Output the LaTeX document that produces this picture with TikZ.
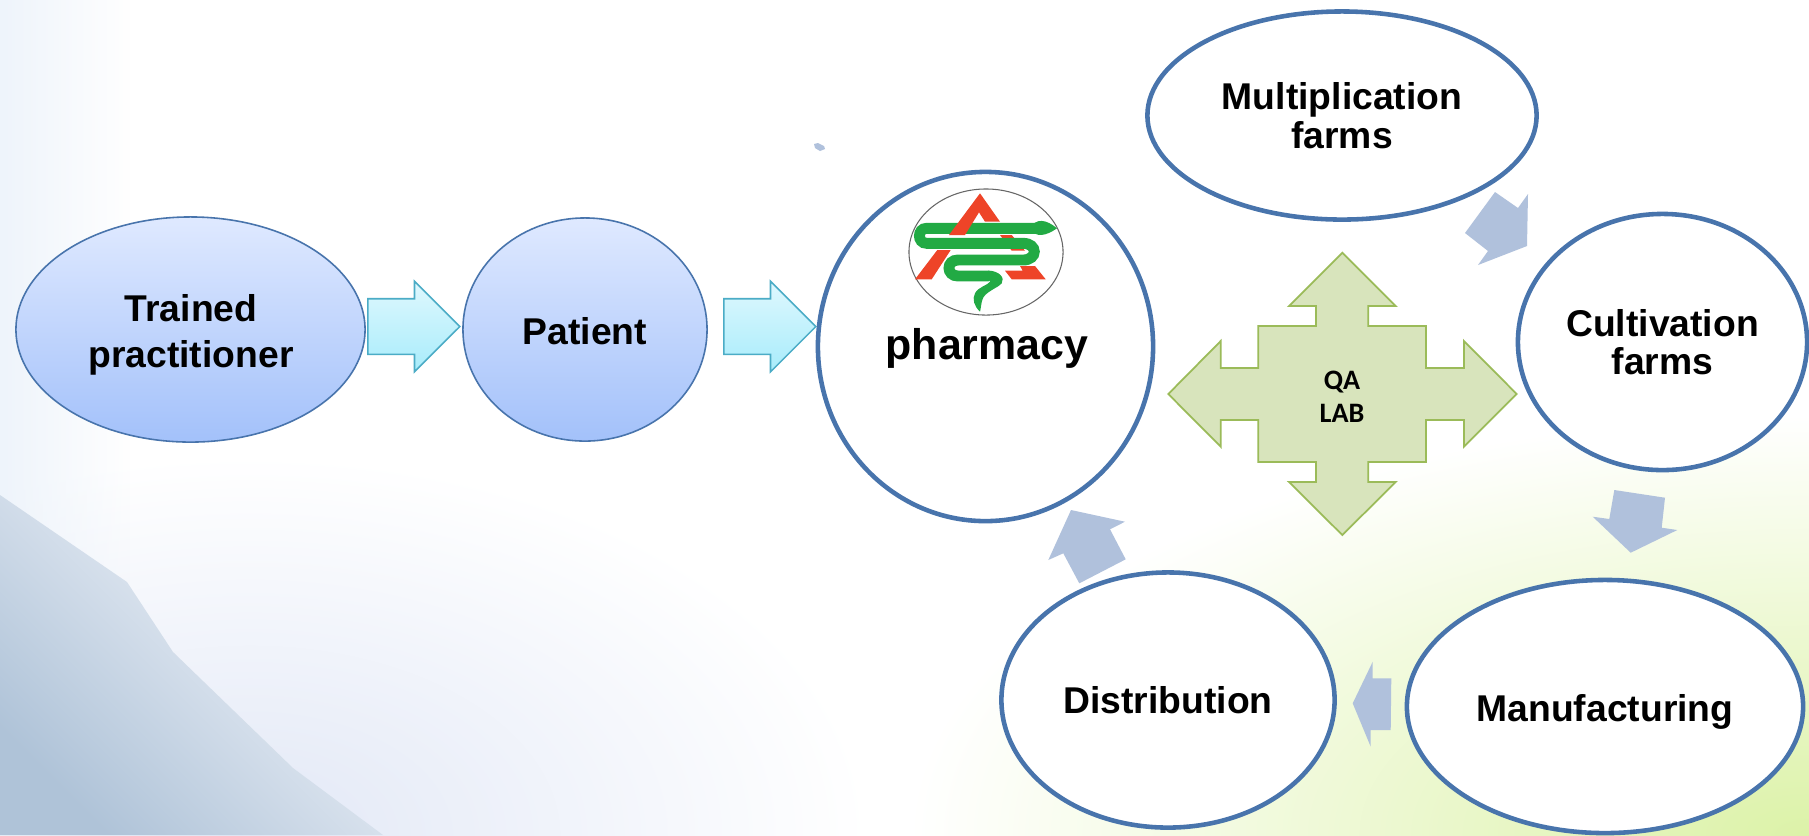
\documentclass[tikz,border=0pt]{standalone}
\usepackage{fontspec}
\setmainfont{Liberation Sans}
\newfontfamily\labfont{Carlito}
\usetikzlibrary{shapes.geometric,shapes.arrows,fadings}
\definecolor{ringblue}{HTML}{4874AC}
\definecolor{cycleblue}{HTML}{B0C1DC}
\definecolor{crossfill}{HTML}{D8E4BC}
\definecolor{crossline}{HTML}{9BBB59}
\definecolor{logogreen}{HTML}{22AA44}
\definecolor{logored}{HTML}{EE4428}
\definecolor{softtop}{HTML}{DFE9FF}
\definecolor{softbottom}{HTML}{A3C1FA}
\definecolor{flowtop}{HTML}{DFF8FE}
\definecolor{flowbottom}{HTML}{A8ECFB}
\definecolor{flowline}{HTML}{4BACC6}
\definecolor{edgetint}{HTML}{EEF4FB}
\definecolor{hilltint}{HTML}{DCF2A8}
\definecolor{slopetint}{HTML}{E2E8F6}
\definecolor{shadetop}{HTML}{AFC3D8}
\definecolor{shadelow}{HTML}{F8F9FD}
\tikzset{
  softblob/.style={shape=ellipse,draw=ringblue,line width=.45pt,top color=softtop,bottom color=softbottom,align=center,inner sep=0pt},
  ringblob/.style={shape=ellipse,draw=ringblue,line width=1.3pt,fill=white,align=center,inner sep=0pt,font=\fontsize{10.6}{11}\selectfont\bfseries},
  bandtext/.style={align=center,inner sep=0pt,font=\fontsize{10.6}{13.1}\selectfont\bfseries},
  flowarrow/.style={shape=single arrow,anchor=tail,draw=flowline,line width=.45pt,top color=flowtop,bottom color=flowbottom,minimum height=.92cm,inner xsep=0pt,inner ysep=.27cm,single arrow head extend=.175cm,single arrow tip angle=90,single arrow head indent=0pt},
  cyclearrow/.style={fill=cycleblue,draw=none},
  snake/.style={draw=logogreen,line width=3.1pt,line cap=round}
}
\begin{document}
\begin{tikzpicture}[x=0.01cm,y=-0.01cm]
  \useasboundingbox (0,0) rectangle (1809,835);

  \begin{scope}
    \clip (0,0) rectangle (1809,835);
    \fill[white] (0,0) rectangle (1809,835);
    \shade[inner color=hilltint,outer color=white] (1809,835) ellipse (900 and 420);
    \shade[inner color=slopetint,outer color=white] (250,835) ellipse (620 and 380);
    \fill[edgetint,path fading=east] (0,0) rectangle (130,835);
    \shade[top color=shadetop,bottom color=shadelow,shading angle=135] (0,495) -- (127,582) -- (173,652) -- (293,768) -- (383,835) -- (0,835) -- cycle;
  \end{scope}

  \fill[cycleblue] (814,144) -- (818,143) -- (824,146) -- (825,149) -- (820,151) -- (815,148) -- cycle;

  \node[softblob,minimum width=3.49cm,minimum height=2.25cm] (trained) at (190.5,329.5) {};
  \node[bandtext] (trainedtext) at (191,334.5) {Trained\\practitioner};
  \node[softblob,minimum width=2.44cm,minimum height=2.23cm] (patient) at (585,329.5) {};
  \node[bandtext] (patienttext) at (585,331.5) {Patient};
  \node[flowarrow] (tp) at (367,326.5) {};
  \node[flowarrow] (pp) at (723,326.5) {};

  \node[ringblob,minimum width=3.35cm,minimum height=3.49cm] (pharmacy) at (985.5,346.5) {};
  \node[ringblob,minimum width=3.89cm,minimum height=2.08cm] (mult) at (1342,115.5) {Multiplication\\farms};
  \node[ringblob,minimum width=2.89cm,minimum height=2.56cm] (cult) at (1662.5,342) {Cultivation\\farms};
  \node[ringblob,minimum width=3.96cm,minimum height=2.53cm] (manu) at (1605,706.5) {};
  \node[bandtext] (manutext) at (1605,712) {Manufacturing};
  \node[ringblob,minimum width=3.33cm,minimum height=2.55cm] (dist) at (1168,700) {Distribution};

  \fill[cyclearrow] (1495,192) -- (1518,208) -- (1528,194) -- (1527,246) -- (1478,265) -- (1488,251) -- (1465,233) -- cycle;
  \fill[cyclearrow] (1614.3,490) -- (1665,497.7) -- (1661.7,527.7) -- (1677.3,530) -- (1630.7,552.7) -- (1592.7,516.7) -- (1609.3,519) -- cycle;
  \fill[cyclearrow] (1391.3,678.3) -- (1390.7,730) -- (1370.7,730) -- (1370.7,746.7) -- (1352.7,703.3) -- (1372.7,661.7) -- (1372.7,678.3) -- cycle;
  \fill[cyclearrow] (1125.7,559.3) -- (1079.3,583.3) -- (1063.3,553.3) -- (1048.3,560) -- (1071,510) -- (1125,521.7) -- (1110,529.3) -- cycle;

  \draw[fill=crossfill,draw=crossline,line width=.5pt] (1342.3,252.7) -- (1395.7,306) -- (1368.3,306) -- (1368.3,326) -- (1426,326) -- (1426,368) -- (1464,368) -- (1464,341) -- (1516.7,394) -- (1464,446.7) -- (1464,420) -- (1426,420) -- (1426,462) -- (1368.3,462) -- (1368.3,482) -- (1395.7,482) -- (1342.3,535) -- (1289,482) -- (1316,482) -- (1316,462) -- (1258.3,462) -- (1258.3,420) -- (1220.7,420) -- (1220.7,446.7) -- (1168.3,394) -- (1220.7,341) -- (1220.7,368) -- (1258.3,368) -- (1258.3,326) -- (1316,326) -- (1316,306) -- (1289,306) -- cycle;
  \node[align=center,inner sep=0pt,font=\fontsize{8}{9.3}\labfont\bfseries] (qa) at (1342,397) {QA\\LAB};

  \node[shape=ellipse,draw=black!60,line width=.3pt,minimum width=1.54cm,minimum height=1.26cm,inner sep=0pt] (logo) at (986,252) {};
  \fill[logored] (1000,235) -- (1011.7,235) -- (1025,250.7) -- (1011.7,250.7) -- cycle;
  \fill[logored] (1020,266) -- (1035,266) -- (1045.7,279.3) -- (1011.7,279.3) -- (1005,270.7) -- (1022.7,270.7) -- cycle;
  \fill[logored] (937.3,250) -- (950.7,250) -- (931.7,279.3) -- (915,279.3) -- cycle;
  \draw[snake] (1040,228.3) -- (926.7,228.3) .. controls (917,228.3) and (917,243.3) .. (926.7,243.3) -- (1023,243.3) .. controls (1038,243.3) and (1038,260) .. (1023,260) -- (958,260) .. controls (946,260) and (946,276) .. (958,276) -- (988,276);
  \fill[logogreen] (1030,228) .. controls (1036,218) and (1046,219) .. (1057,228.3) .. controls (1046,236) and (1036,238) .. (1030,229) -- cycle;
  \fill[logogreen] (988,270.5) .. controls (1000,271) and (1005,278) .. (1001.7,283.3) .. controls (998,288) and (984,292) .. (982.3,300) .. controls (981,304) and (981,308) .. (980,311.7) .. controls (974,306) and (972,299) .. (975,293.3) .. controls (978,287) and (988,285) .. (990,281.7) -- cycle;
  \fill[logored] (980,193.3) -- (1000,221.7) -- (985,221.7) -- (979,212.3) -- (965,235) -- (949,235) -- cycle;
  \node[inner sep=0pt,anchor=base,font=\fontsize{12.2}{13}\selectfont\bfseries] (pharmtext) at (987,359) {pharmacy};
\end{tikzpicture}
\end{document}
